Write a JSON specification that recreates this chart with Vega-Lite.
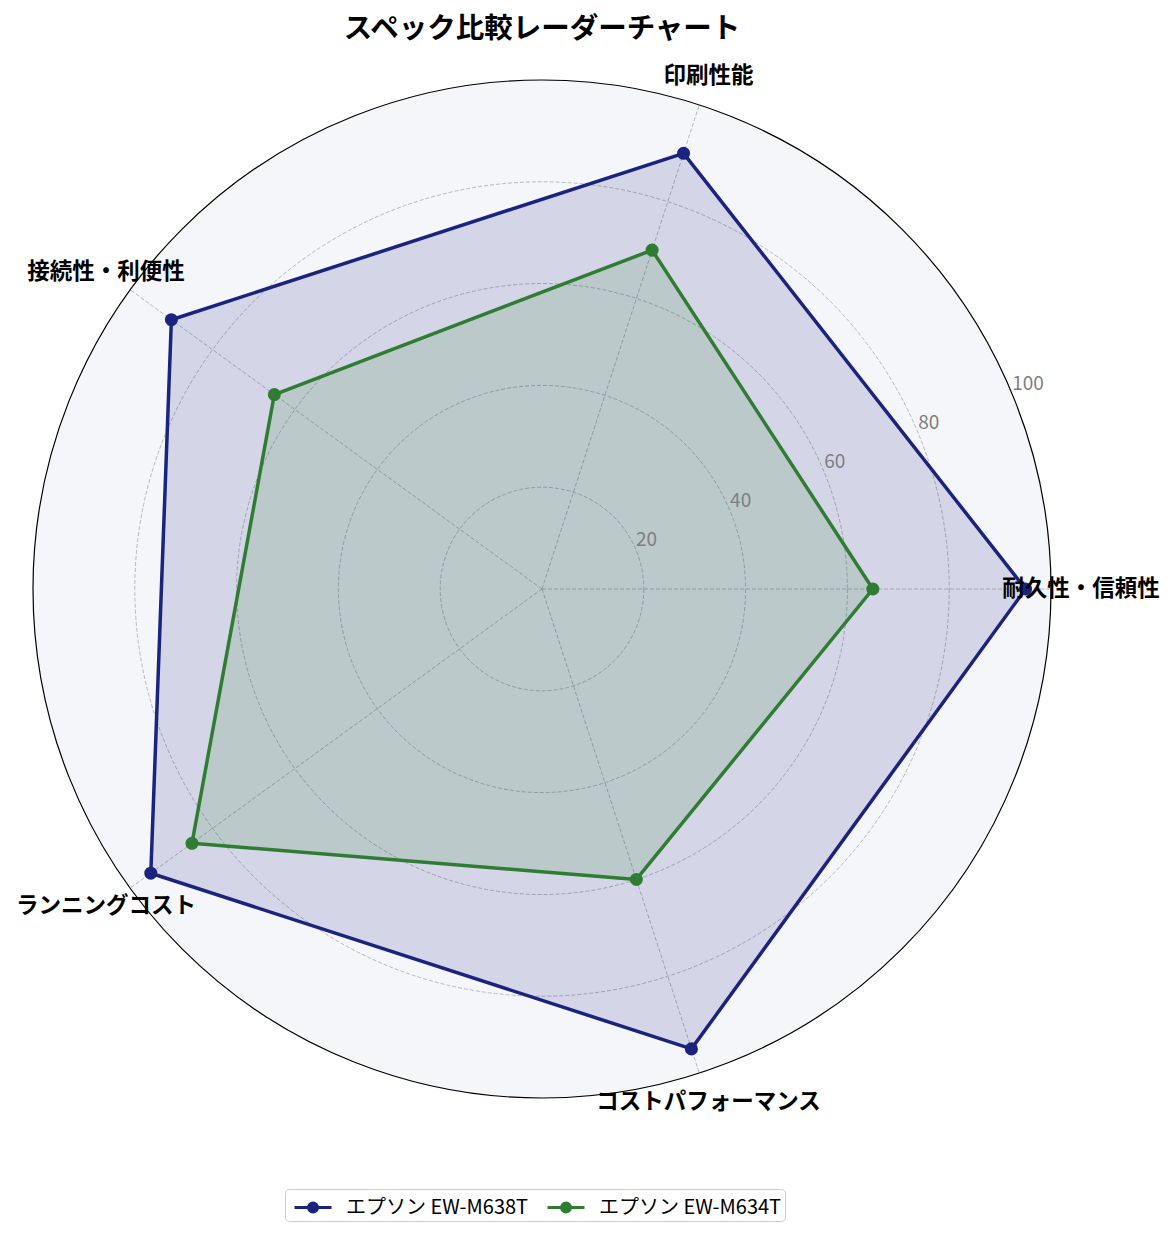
{
  "$schema": "https://vega.github.io/schema/vega-lite/v6.json",
  "width": 1018,
  "height": 1018,
  "autosize": "none",
  "padding": {"left": 33, "top": 80, "right": 125, "bottom": 141},
  "background": "white",
  "title": {
    "text": "スペック比較レーダーチャート",
    "font": "Noto Sans CJK JP",
    "fontSize": 28.5,
    "fontWeight": "bold",
    "color": "black",
    "anchor": "middle",
    "offset": 22
  },
  "datasets": {
    "specs": [
      {"model": "エプソン EW-M638T", "axis": "耐久性・信頼性", "i": 0, "score": 95},
      {"model": "エプソン EW-M638T", "axis": "印刷性能", "i": 1, "score": 90},
      {"model": "エプソン EW-M638T", "axis": "接続性・利便性", "i": 2, "score": 90},
      {"model": "エプソン EW-M638T", "axis": "ランニングコスト", "i": 3, "score": 95},
      {"model": "エプソン EW-M638T", "axis": "コストパフォーマンス", "i": 4, "score": 95},
      {"model": "エプソン EW-M634T", "axis": "耐久性・信頼性", "i": 0, "score": 65},
      {"model": "エプソン EW-M634T", "axis": "印刷性能", "i": 1, "score": 70},
      {"model": "エプソン EW-M634T", "axis": "接続性・利便性", "i": 2, "score": 65},
      {"model": "エプソン EW-M634T", "axis": "ランニングコスト", "i": 3, "score": 85},
      {"model": "エプソン EW-M634T", "axis": "コストパフォーマンス", "i": 4, "score": 60}
    ],
    "axes": [
      {"axis": "耐久性・信頼性", "i": 0},
      {"axis": "印刷性能", "i": 1},
      {"axis": "接続性・利便性", "i": 2},
      {"axis": "ランニングコスト", "i": 3},
      {"axis": "コストパフォーマンス", "i": 4}
    ],
    "rings": [{"r": 20}, {"r": 40}, {"r": 60}, {"r": 80}, {"r": 100}]
  },
  "layer": [
    {
      "data": {"name": "rings"},
      "transform": [{"filter": "datum.r == 100"}, {"calculate": "0", "as": "c"}],
      "mark": {"type": "point", "shape": "circle", "filled": true, "fill": "#f5f6fa", "fillOpacity": 1, "opacity": 1, "stroke": "black", "strokeWidth": 1.2},
      "encoding": {
        "x": {"field": "c", "type": "quantitative", "scale": {"domain": [-100, 100], "nice": false, "zero": false}, "axis": null},
        "y": {"field": "c", "type": "quantitative", "scale": {"domain": [-100, 100], "nice": false, "zero": false}, "axis": null},
        "size": {"field": "r", "type": "quantitative", "scale": {"type": "pow", "exponent": 2, "domain": [0, 100], "range": [0, 1036324]}, "legend": null}
      }
    },
    {
      "data": {"name": "rings"},
      "transform": [{"filter": "datum.r < 100"}, {"calculate": "0", "as": "c"}],
      "mark": {"type": "point", "shape": "circle", "filled": false, "opacity": 1, "stroke": "#a8a8a8", "strokeWidth": 0.8, "strokeDash": [4, 2]},
      "encoding": {
        "x": {"field": "c", "type": "quantitative"},
        "y": {"field": "c", "type": "quantitative"},
        "size": {"field": "r", "type": "quantitative", "legend": null}
      }
    },
    {
      "data": {"name": "axes"},
      "transform": [
        {"calculate": "0", "as": "c"},
        {"calculate": "datum.i * 2 * PI / 5", "as": "ang"},
        {"calculate": "100 * cos(datum.ang)", "as": "ex"},
        {"calculate": "100 * sin(datum.ang)", "as": "ey"}
      ],
      "mark": {"type": "rule", "color": "#a8a8a8", "strokeWidth": 0.8, "strokeDash": [4, 2]},
      "encoding": {
        "x": {"field": "c", "type": "quantitative"},
        "y": {"field": "c", "type": "quantitative"},
        "x2": {"field": "ex"},
        "y2": {"field": "ey"}
      }
    },
    {
      "data": {"name": "specs"},
      "transform": [
        {"calculate": "datum.i * 2 * PI / 5", "as": "ang"},
        {"calculate": "datum.score * cos(datum.ang)", "as": "px"},
        {"calculate": "datum.score * sin(datum.ang)", "as": "py"}
      ],
      "layer": [
        {
          "mark": {"type": "line", "interpolate": "linear-closed", "strokeWidth": 3.5, "fillOpacity": 0.15, "strokeJoin": "round"},
          "encoding": {
            "x": {"field": "px", "type": "quantitative"},
            "y": {"field": "py", "type": "quantitative"},
            "order": {"field": "i", "type": "quantitative"},
            "stroke": {"field": "model", "type": "nominal", "sort": null, "scale": {"domain": ["エプソン EW-M638T", "エプソン EW-M634T"], "range": ["#1a237e", "#2e7d32"]}},
            "fill": {"field": "model", "type": "nominal", "sort": null, "scale": {"domain": ["エプソン EW-M638T", "エプソン EW-M634T"], "range": ["#1a237e", "#2e7d32"]}}
          }
        },
        {
          "mark": {"type": "point", "shape": "circle", "filled": true, "opacity": 1, "size": 170},
          "encoding": {
            "x": {"field": "px", "type": "quantitative"},
            "y": {"field": "py", "type": "quantitative"},
            "color": {
              "field": "model", "type": "nominal", "sort": null,
              "scale": {"domain": ["エプソン EW-M638T", "エプソン EW-M634T"], "range": ["#1a237e", "#2e7d32"]},
              "legend": {
                "orient": "none",
                "legendX": 252,
                "legendY": 1109,
                "direction": "horizontal",
                "title": null,
                "symbolType": "M-0.64,0L2,0M0.36,0A0.32,0.32,0,1,1,1,0A0.32,0.32,0,1,1,0.36,0Z",
                "symbolSize": 784,
                "symbolStrokeWidth": 3,
                "labelFont": "Noto Sans CJK JP",
                "labelFontSize": 20,
                "labelColor": "black",
                "labelLimit": 400,
                "labelOffset": 27,
                "columnPadding": 12,
                "padding": 3,
                "strokeColor": "#cccccc",
                "fillColor": "white",
                "cornerRadius": 4,
                "encode": {
                  "symbols": {
                    "update": {
                      "fill": {"scale": "color", "field": "value"},
                      "stroke": {"scale": "color", "field": "value"},
                      "strokeWidth": {"value": 3},
                      "fillOpacity": {"value": 1},
                      "opacity": {"value": 1}
                    }
                  }
                }
              }
            }
          }
        }
      ]
    },
    {
      "data": {"name": "axes"},
      "transform": [
        {"calculate": "datum.i * 2 * PI / 5", "as": "ang"},
        {"calculate": "105.9 * cos(datum.ang)", "as": "lx"},
        {"calculate": "105.9 * sin(datum.ang)", "as": "ly"}
      ],
      "mark": {"type": "text", "font": "Noto Sans CJK JP", "fontSize": 22.5, "fontWeight": "bold", "color": "black", "align": "center", "baseline": "middle"},
      "encoding": {
        "x": {"field": "lx", "type": "quantitative"},
        "y": {"field": "ly", "type": "quantitative"},
        "text": {"field": "axis", "type": "nominal"}
      }
    },
    {
      "data": {"name": "rings"},
      "transform": [
        {"calculate": "datum.r * cos(PI / 8)", "as": "tx"},
        {"calculate": "datum.r * sin(PI / 8)", "as": "ty"}
      ],
      "mark": {"type": "text", "font": "Noto Sans CJK JP", "fontSize": 19, "color": "#7f7f7f", "align": "left", "baseline": "bottom"},
      "encoding": {
        "x": {"field": "tx", "type": "quantitative"},
        "y": {"field": "ty", "type": "quantitative"},
        "text": {"field": "r", "type": "quantitative"}
      }
    }
  ],
  "config": {"view": {"stroke": null}}
}
